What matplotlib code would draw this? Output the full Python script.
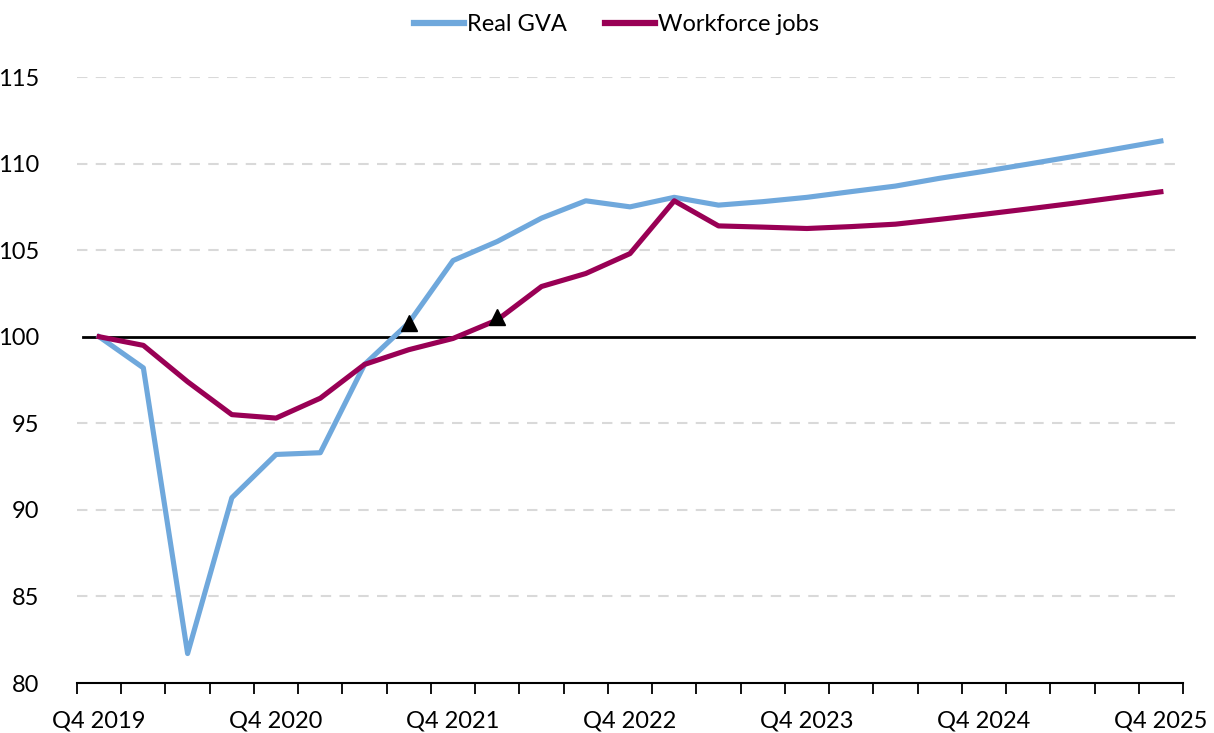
import numpy as np
import matplotlib
matplotlib.use("Agg")
import matplotlib.pyplot as plt
from matplotlib.ticker import FixedLocator

# quarterly index, Q4 2019 = 100
quarters = ["Q4 2019", "Q1 2020", "Q2 2020", "Q3 2020", "Q4 2020",
            "Q1 2021", "Q2 2021", "Q3 2021", "Q4 2021",
            "Q1 2022", "Q2 2022", "Q3 2022", "Q4 2022",
            "Q1 2023", "Q2 2023", "Q3 2023", "Q4 2023",
            "Q1 2024", "Q2 2024", "Q3 2024", "Q4 2024",
            "Q1 2025", "Q2 2025", "Q3 2025", "Q4 2025"]
real_gva = [100.0, 98.2, 81.7, 90.7, 93.2, 93.3, 98.4, 100.8, 104.4,
            105.5, 106.85, 107.85, 107.5, 108.05, 107.6, 107.8, 108.05,
            108.38, 108.7, 109.15, 109.55, 109.97, 110.4, 110.85, 111.3]
workforce_jobs = [100.0, 99.5, 97.4, 95.5, 95.3, 96.45, 98.4, 99.25, 99.9,
                  100.97, 102.9, 103.65, 104.8, 107.85, 106.4, 106.33, 106.25,
                  106.36, 106.5, 106.78, 107.07, 107.38, 107.7, 108.04, 108.37]
# triangles: quarter index and level
marker_idx = [7, 9]
marker_val = [100.77, 101.14]

blue = "#6FA8DC"
plum = "#990055"

plt.rcParams['font.family'] = ['Lato', 'DejaVu Sans']

fig = plt.figure(figsize=(12.14, 7.33), dpi=100)
ax = fig.add_axes([77/1214, 50/733, (1183-77)/1214, (683-77)/733])

x = np.arange(len(quarters))

for yv in [85, 90, 95, 105, 110, 115]:
    ax.axhline(yv, color="#D9D9D9", lw=1.5, ls=(0, (5, 4)), zorder=0)

ax.plot([-0.37, 24.75], [100, 100], color="black", lw=2, clip_on=False, zorder=1)

ax.plot(x, real_gva, color=blue, lw=3.7, label="Real GVA", zorder=3)
ax.plot(x, workforce_jobs, color=plum, lw=3.7, label="Workforce jobs", zorder=3)
ax.plot(marker_idx, marker_val, ls="none", marker="^", ms=12, color="black", zorder=4)

ax.set_xlim(-0.5, len(quarters) - 0.5)
ax.set_ylim(80, 115)
ax.set_yticks(range(80, 116, 5))
ax.set_xticks(x[::4])
ax.set_xticklabels(quarters[::4])
ax.xaxis.set_minor_locator(FixedLocator(np.arange(-0.5, len(quarters), 1)))

ax.tick_params(axis="x", which="major", length=0, pad=20, labelsize=17)
ax.tick_params(axis="x", which="minor", length=8, width=1.3, direction="out", color="black")
ax.tick_params(axis="y", length=0, pad=27, labelsize=17)

for s in ["top", "right", "left"]:
    ax.spines[s].set_visible(False)
ax.spines["bottom"].set_linewidth(1.5)

leg = fig.legend(loc="upper center", bbox_to_anchor=(0.508, 1.01), ncol=2, frameon=False,
                 fontsize=17, handlelength=2.1, handletextpad=0.15, columnspacing=1.6)
for line in leg.get_lines():
    line.set_linewidth(4.5)

fig.savefig("out.png", dpi=100)
